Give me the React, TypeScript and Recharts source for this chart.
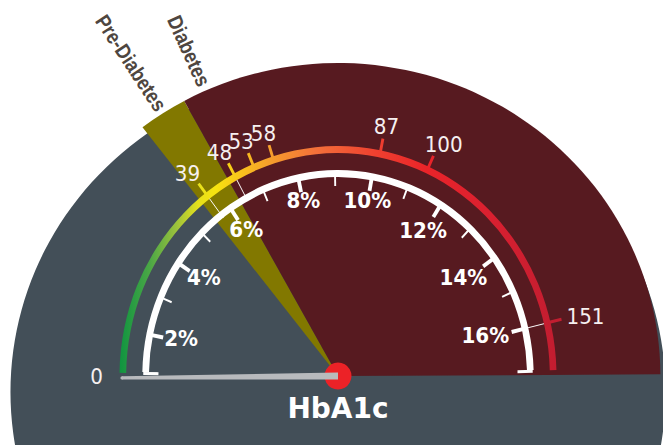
import React from 'react';
import { PieChart, Pie, Cell, RadialBarChart, RadialBar, PolarAngleAxis } from 'recharts';

// ---------------- data ----------------
const rangeNames = ['Normal', 'Pre-Diabetes', 'Diabetes'];
const rangeBounds = [0, 5.7, 6.5, 17.2]; // HbA1c %
const gaugeDomain = [0, 17.2];
const percentTicks = [1, 2, 3, 4, 5, 6, 7, 8, 9, 10, 11, 12, 13, 14, 15, 16];
const mmolValues = [39, 48, 53, 58, 87, 100, 151];
const mmolPercent = [5.7, 6.5, 7.0, 7.5, 10.1, 11.3, 16.0];
const mmolLinked = [39, 48, 151];
const zeroLabel = '0';
const gaugeTitle = 'HbA1c';

// ---------------- layout ----------------
const W = 663;
const H = 445;
const CX = 338;
const CY = 376;
const START = 190.3;
const END = 0.3;
const SQUEEZE = 0.95;
const BG_STRETCH = 1.03;
const WHITE_IN = 199;
const WHITE_OUT = 206;
const COLOR_IN = 223;
const COLOR_OUT = 230;
const WHITE_START = 178.9;
const WHITE_END = 1.7;
const COLOR_START = 179.2;
const COLOR_END = 1.5;
const RAD = Math.PI / 180;
const M = { top: 0, right: 0, bottom: 0, left: 0 };
const MMOL_FS = 21;

const pt = (r: number, a: number): [number, number] => [CX + r * Math.cos(a * RAD), CY - r * Math.sin(a * RAD)];

const rangeData = rangeNames.map((name, i) => ({ name, v: +(rangeBounds[i + 1] - rangeBounds[i]).toFixed(3) }));
const rangeFills = ['rgba(0,0,0,0)', '#827800', '#571a20'];
const single = [{ name: 'x', v: 1 }];
const axisData = [{ name: gaugeTitle, v: 0 }];

const gradStops: [number, string][] = [
  [0, '#0f9440'],
  [0.07, '#4ca746'],
  [0.13, '#9cc23c'],
  [0.18, '#e6e01c'],
  [0.22, '#f7e30f'],
  [0.28, '#f9c11d'],
  [0.34, '#f6a02b'],
  [0.45, '#f3703a'],
  [0.58, '#ef4230'],
  [0.7, '#ea2429'],
  [0.85, '#d92030'],
  [1, '#c21d30'],
];

const Grad = ({ id }: { id: string }) => (
  <defs>
    <linearGradient id={id} gradientUnits="userSpaceOnUse" x1={CX - COLOR_OUT} y1={0} x2={CX + COLOR_OUT} y2={0}>
      {gradStops.map(([o, c]) => (
        <stop key={o} offset={o} stopColor={c} />
      ))}
    </linearGradient>
  </defs>
);

const angleOf = (props: any) => {
  const a = props?.payload?.coordinate;
  if (typeof a === 'number') return a;
  return Math.atan2(CY - props.y, props.x - CX) / RAD;
};

const PercentTick = (props: any) => {
  const v = props.payload.value;
  const a = angleOf(props);
  const major = v % 2 === 0;
  const [x1, y1] = pt(WHITE_IN + 1, a);
  const [x2, y2] = pt(WHITE_IN - (major ? 11 : 9), a);
  const n = String(v).length;
  const lr = 178 - 9.5 * Math.abs(Math.cos(a * RAD)) * n;
  const [lx, ly] = pt(lr, a);
  return (
    <g>
      <line x1={x1} y1={y1} x2={x2} y2={y2} stroke="#ffffff" strokeWidth={major ? 4 : 2} />
      {major && (
        <text
          x={lx}
          y={ly - 3}
          textAnchor="middle"
          dominantBaseline="central"
          fill="#ffffff"
          fontFamily="'DejaVu Sans', sans-serif"
          fontWeight="bold"
          fontSize={21}
        >
          {`${v}%`}
        </text>
      )}
    </g>
  );
};

const MmolTick = (props: any) => {
  const p = props.payload.value;
  let i = mmolPercent.findIndex((q) => Math.abs(q - p) < 1e-6);
  if (i < 0) i = props.index ?? 0;
  const mm = mmolValues[i];
  const a = angleOf(props);
  const [cx1, cy1] = pt(WHITE_IN, a);
  const [cx2, cy2] = pt(COLOR_IN, a);
  const [tx1, ty1] = pt(COLOR_OUT - 1, a);
  const [tx2, ty2] = pt(COLOR_OUT + 12, a);
  const txt = String(mm);
  const halfW = (txt.length * 0.636 * MMOL_FS) / 2;
  const lx = tx2 + Math.cos(a * RAD) * (halfW + 6);
  const ly = ty2 - Math.sin(a * RAD) * 12;
  return (
    <g>
      {mmolLinked.includes(mm) && <line x1={cx1} y1={cy1} x2={cx2} y2={cy2} stroke="#ffffff" strokeWidth={1} />}
      <line x1={tx1} y1={ty1} x2={tx2} y2={ty2} stroke="url(#hbTickGrad)" strokeWidth={3} />
      <text
        x={lx}
        y={ly}
        textAnchor="middle"
        dominantBaseline="central"
        fill="#f6f0f0"
        fontFamily="'DejaVu Sans', sans-serif"
        fontWeight={400}
        fontSize={MMOL_FS}
      >
        {txt}
      </text>
    </g>
  );
};

const WhiteFeet = (props: any) => {
  const s = typeof props.startAngle === 'number' ? props.startAngle : WHITE_START;
  const e = typeof props.endAngle === 'number' ? props.endAngle : WHITE_END;
  const foot = (a: number) => {
    const [x1, y1] = pt(WHITE_OUT - 1, a);
    const [x2, y2] = pt(WHITE_IN - 10, a);
    return <line x1={x1} y1={y1} x2={x2} y2={y2} stroke="#ffffff" strokeWidth={3} />;
  };
  return (
    <g>
      {foot(s + 0.4)}
      {foot(e - 0.4)}
    </g>
  );
};

const ZeroLabel = (props: any) => {
  const s = typeof props.startAngle === 'number' ? props.startAngle : COLOR_START;
  const [x, y] = pt(254, s + 1);
  return (
    <text
      x={x}
      y={y}
      textAnchor="middle"
      dominantBaseline="central"
      fill="#f6f0f0"
      fontFamily="'DejaVu Sans', sans-serif"
      fontWeight={400}
      fontSize={MMOL_FS}
    >
      {zeroLabel}
    </text>
  );
};

const RangeLabel = (props: any) => {
  const idx = props.index ?? 0;
  if (idx === 0) return null;
  const a = props.startAngle - 3.9;
  const [x, y] = pt(320, a);
  return (
    <text
      x={0}
      y={0}
      textAnchor="end"
      dominantBaseline="central"
      transform={`translate(${x} ${y}) rotate(${180 - a}) scale(0.86 1)`}
      fill="#4e4640"
      fontFamily="'Liberation Sans', Arial, sans-serif"
      fontWeight="bold"
      fontSize={21}
    >
      {rangeNames[idx]}
    </text>
  );
};

const Needle = (props: any) => {
  const a = typeof props.midAngle === 'number' ? props.midAngle : 180.5;
  const len = typeof props.outerRadius === 'number' ? props.outerRadius : 216;
  const [tx, ty] = pt(len, a);
  const px = Math.sin(a * RAD);
  const py = Math.cos(a * RAD);
  const b = 3.5;
  const t = 1.6;
  const pts = [
    [CX + px * b, CY + py * b],
    [tx + px * t, ty + py * t],
    [tx - px * t, ty - py * t],
    [CX - px * b, CY - py * b],
  ]
    .map((q) => q.join(','))
    .join(' ');
  return (
    <g>
      <polygon points={pts} fill="#b8babd" />
      <circle cx={tx} cy={ty} r={t} fill="#b8babd" />
    </g>
  );
};

const Title = () => (
  <text
    x={CX}
    y={CY + 42}
    textAnchor="middle"
    fill="#ffffff"
    fontFamily="'DejaVu Sans', sans-serif"
    fontWeight="bold"
    fontSize={28}
  >
    {gaugeTitle}
  </text>
);

const layer = (scale?: number): React.CSSProperties => ({
  position: 'absolute',
  left: 0,
  top: 0,
  width: W,
  height: H,
  transform: scale ? `scaleX(${scale})` : undefined,
  transformOrigin: `${CX}px ${CY}px`,
});

export default function App() {
  return (
    <div style={{ position: 'absolute', left: 0, top: 0, width: W, height: H, overflow: 'hidden', background: '#ffffff' }}>
      {/* background disk and range wedges */}
      <div style={layer(BG_STRETCH)}>
        <PieChart width={W} height={H} margin={M}>
          <Pie data={single} dataKey="v" cx={CX} cy={392} innerRadius={0} outerRadius={318} startAngle={0} endAngle={360} stroke="none" isAnimationActive={false}>
            <Cell fill="#434f58" />
          </Pie>
          <Pie data={rangeData} dataKey="v" cx={CX} cy={CY} innerRadius={0} outerRadius={313} startAngle={START} endAngle={END} stroke="none" isAnimationActive={false}>
            {rangeData.map((d, i) => (
              <Cell key={d.name} fill={rangeFills[i]} />
            ))}
          </Pie>
        </PieChart>
      </div>
      {/* arcs */}
      <div style={layer(SQUEEZE)}>
        <PieChart width={W} height={H} margin={M}>
          <Grad id="hbArcGrad" />
          <Pie data={single} dataKey="v" cx={CX} cy={CY} innerRadius={COLOR_IN} outerRadius={COLOR_OUT} startAngle={COLOR_START} endAngle={COLOR_END} stroke="none" isAnimationActive={false} label={ZeroLabel} labelLine={false}>
            <Cell fill="url(#hbArcGrad)" />
          </Pie>
          <Pie data={single} dataKey="v" cx={CX} cy={CY} innerRadius={WHITE_IN} outerRadius={WHITE_OUT} startAngle={WHITE_START} endAngle={WHITE_END} stroke="none" isAnimationActive={false} label={WhiteFeet} labelLine={false}>
            <Cell fill="#ffffff" />
          </Pie>
        </PieChart>
      </div>
      {/* percent ticks */}
      <div style={layer(SQUEEZE)}>
        <RadialBarChart width={W} height={H} margin={M} cx={CX} cy={CY} startAngle={START} endAngle={END} innerRadius={0} outerRadius={WHITE_IN} data={axisData}>
          <PolarAngleAxis type="number" domain={gaugeDomain} ticks={percentTicks as any} tick={PercentTick} axisLine={false} tickLine={false} allowDataOverflow />
          <RadialBar dataKey="v" fill="none" isAnimationActive={false} />
        </RadialBarChart>
      </div>
      {/* mmol/mol ticks */}
      <div style={layer(SQUEEZE)}>
        <RadialBarChart width={W} height={H} margin={M} cx={CX} cy={CY} startAngle={START} endAngle={END} innerRadius={0} outerRadius={WHITE_IN} data={axisData}>
          <Grad id="hbTickGrad" />
          <PolarAngleAxis type="number" domain={gaugeDomain} ticks={mmolPercent as any} tick={MmolTick} axisLine={false} tickLine={false} allowDataOverflow />
          <RadialBar dataKey="v" fill="none" isAnimationActive={false} />
        </RadialBarChart>
      </div>
      {/* labels, needle, hub */}
      <div style={layer()}>
        <PieChart width={W} height={H} margin={M}>
          <Pie data={rangeData} dataKey="v" cx={CX} cy={CY} innerRadius={0} outerRadius={313} startAngle={START} endAngle={END} stroke="none" fill="rgba(0,0,0,0)" isAnimationActive={false} label={RangeLabel} labelLine={false}>
            {rangeData.map((d) => (
              <Cell key={d.name} fill="rgba(0,0,0,0)" />
            ))}
          </Pie>
          <Pie data={single} dataKey="v" cx={CX} cy={CY} innerRadius={0} outerRadius={216} startAngle={180.3} endAngle={180.7} stroke="none" isAnimationActive={false} label={Needle} labelLine={false}>
            <Cell fill="rgba(0,0,0,0)" />
          </Pie>
          <Pie data={single} dataKey="v" cx={CX} cy={CY} innerRadius={0} outerRadius={13.5} startAngle={0} endAngle={360} stroke="none" isAnimationActive={false} label={Title} labelLine={false}>
            <Cell fill="#ec2227" />
          </Pie>
        </PieChart>
      </div>
    </div>
  );
}
